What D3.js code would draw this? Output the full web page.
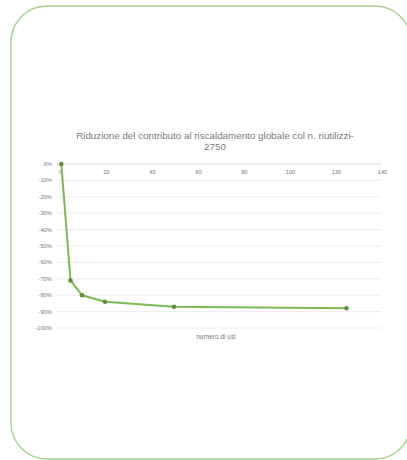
<!DOCTYPE html>
<html>
<head>
<meta charset="utf-8">
<script src="https://cdn.jsdelivr.net/npm/d3@7"></script>
<style>
  html, body { margin: 0; padding: 0; background: #fff; }
  svg { display: block; font-family: "Liberation Sans", Arial, sans-serif; }
</style>
</head>
<body>
<script>
// numero di usi vs riduzione del contributo (%)
const usi = [1, 5, 10, 20, 50, 125];
const riduzione = [0, -71, -80, -84, -87, -88];
const xTicks = [0, 20, 40, 60, 80, 100, 120, 140];
const yTicks = [0, -10, -20, -30, -40, -50, -60, -70, -80, -90, -100];
const titleLines = ["Riduzione del contributo al riscaldamento globale col n. riutilizzi-", "2750"];
const xTitle = "numero di usi";

const width = 407, height = 460;
const green = "#7ab954", textCol = "#7a7a7a";

const svg = d3.select("body").append("svg")
  .attr("width", width)
  .attr("height", height);

// cornice verde arrotondata
svg.append("rect")
  .attr("x", 11).attr("y", 6)
  .attr("width", 400).attr("height", 453)
  .attr("rx", 36).attr("ry", 36)
  .attr("fill", "#fff")
  .attr("stroke", "#a3d48a")
  .attr("stroke-width", 1.4);

const x = d3.scaleLinear().domain([0, 140]).range([59, 381]);
const y = d3.scaleLinear().domain([0, -100]).range([164, 328]);

// griglia orizzontale
svg.append("g")
  .selectAll("line")
  .data(yTicks)
  .join("line")
    .attr("x1", x(0) - 2).attr("x2", x(140))
    .attr("y1", d => y(d)).attr("y2", d => y(d))
    .attr("stroke", d => d === 0 ? "#cfcfcf" : "#e6e6e6")
    .attr("stroke-width", 0.8);

// etichette asse y
svg.append("g")
  .selectAll("text")
  .data(yTicks)
  .join("text")
    .attr("x", 52)
    .attr("y", d => y(d))
    .attr("dy", "0.35em")
    .attr("text-anchor", "end")
    .attr("font-size", 5.8)
    .attr("fill", textCol)
    .text(d => d + "%");

// etichette asse x (sotto la linea dello zero)
svg.append("g")
  .selectAll("text")
  .data(xTicks)
  .join("text")
    .attr("x", d => x(d) + 1.5)
    .attr("y", y(0) + 10)
    .attr("text-anchor", "middle")
    .attr("font-size", 5.8)
    .attr("fill", textCol)
    .text(d => d);

// titolo
svg.append("text")
  .attr("x", 215)
  .attr("font-size", 9.8)
  .attr("fill", textCol)
  .attr("text-anchor", "middle")
  .selectAll("tspan")
  .data(titleLines)
  .join("tspan")
    .attr("x", 215)
    .attr("y", (d, i) => 138.5 + i * 11.5)
    .text(d => d);

// titolo asse x
svg.append("text")
  .attr("x", 216)
  .attr("y", 339)
  .attr("text-anchor", "middle")
  .attr("font-size", 6.6)
  .attr("fill", textCol)
  .text(xTitle);

const pts = usi.map((u, i) => [u, riduzione[i]]);

svg.append("path")
  .datum(pts)
  .attr("fill", "none")
  .attr("stroke", green)
  .attr("stroke-width", 2)
  .attr("stroke-linejoin", "round")
  .attr("d", d3.line().x(d => x(d[0])).y(d => y(d[1])));

svg.append("g")
  .selectAll("circle")
  .data(pts)
  .join("circle")
    .attr("cx", d => x(d[0]))
    .attr("cy", d => y(d[1]))
    .attr("r", 2.3)
    .attr("fill", "#5e8f3e");
</script>
</body>
</html>
